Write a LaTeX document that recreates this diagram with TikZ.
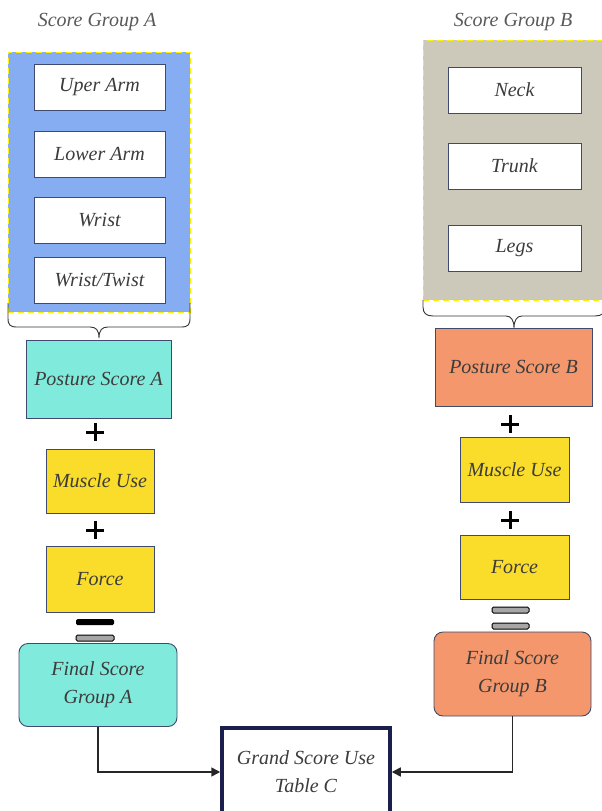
\documentclass[tikz,border=0pt]{standalone}
\usepackage{fontspec}
\setmainfont{Liberation Serif}
\usetikzlibrary{arrows.meta}
\definecolor{edgec}{HTML}{3F4A6E}
\definecolor{txt}{HTML}{3C3C3C}
\definecolor{blueg}{HTML}{86ADF2}
\definecolor{grayg}{HTML}{CDC9BA}
\definecolor{turq}{HTML}{80EBDC}
\definecolor{salmon}{HTML}{F4976C}
\definecolor{yel}{HTML}{FADC2A}
\definecolor{navy}{HTML}{1A1F4E}
\begin{document}
\begin{tikzpicture}[x=1pt,y=-1pt,
  lbl/.style={font=\fontsize{20}{28}\selectfont\itshape, text=txt, align=center},
  inbox/.style={lbl, draw=edgec, line width=0.9pt, fill=white, minimum width=131pt, minimum height=46pt, inner sep=0pt},
  grp/.style={draw=yellow, dashed, dash pattern=on 6pt off 4pt, line width=0.8pt, inner sep=0pt},
  sbox/.style={lbl, draw=edgec, line width=0.9pt, inner sep=0pt},
  ttl/.style={font=\fontsize{20}{24}\selectfont\itshape, text=txt!85},
  brc/.style={draw=black!80, line width=0.9pt},
  conn/.style={draw=black!85, line width=1.6pt, -{Triangle[length=9pt,width=9pt]}},
  plusl/.style={line width=3pt, black},
  ]
\useasboundingbox (0,0) rectangle (602,811);
\clip (0,0) rectangle (602,811);
% titles
\node[ttl] (ta) at (97,22) {Score Group A};
\node[ttl] (tb) at (513,22) {Score Group B};
% group backgrounds
\node[grp, fill=blueg, minimum width=182pt, minimum height=260pt] (ga) at (99,182) {};
\node[grp, fill=grayg, minimum width=190pt, minimum height=260pt] (gb) at (518,170) {};
% inner boxes A
\node[inbox] (ua) at (99.5,87) {Uper Arm};
\node[inbox] (la) at (99.5,154) {Lower Arm};
\node[inbox] (wr) at (99.5,220) {Wrist};
\node[inbox] (wt) at (99.5,280) {Wrist/Twist};
% inner boxes B
\node[inbox, minimum width=133pt] (ne) at (514.5,90) {Neck};
\node[inbox, minimum width=133pt] (tr) at (514.5,166) {Trunk};
\node[inbox, minimum width=133pt] (lg) at (514.5,248) {Legs};
% braces
\draw[brc] (8,303) -- (8,318) .. controls (8,325) and (10,327) .. (17,327) -- (90,327) .. controls (96,327) and (99,330) .. (99,338) .. controls (99,330) and (102,327) .. (108,327) -- (181,327) .. controls (188,327) and (190,325) .. (190,318) -- (190,303);
\draw[brc] (423,300) -- (423,307) .. controls (423,313) and (426,316) .. (433,316) -- (506,316) .. controls (511,316) and (514,320) .. (514,328) .. controls (514,320) and (517,316) .. (522,316) -- (595,316) .. controls (602,316) and (605,313) .. (605,307) -- (605,300);
% column A
\node[sbox, fill=turq, minimum width=145pt, minimum height=78pt] (pa) at (98.5,379) {Posture Score A};
\node[sbox, fill=yel, minimum width=108pt, minimum height=64pt] (ma) at (100,481) {Muscle Use};
\node[sbox, fill=yel, minimum width=108pt, minimum height=66pt] (fa) at (100,579) {Force};
\node[sbox, fill=turq, rounded corners=9pt, minimum width=158pt, minimum height=83pt] (fna) at (98,685) {Final Score\\Group A};
% column B
\node[sbox, fill=salmon, minimum width=157pt, minimum height=78pt] (pb) at (513.5,367) {Posture Score B};
\node[sbox, fill=yel, minimum width=109pt, minimum height=65pt] (mb) at (514.5,469.5) {Muscle Use};
\node[sbox, fill=yel, minimum width=109pt, minimum height=64pt] (fb) at (514.5,567) {Force};
\node[sbox, fill=salmon, rounded corners=9pt, minimum width=157pt, minimum height=84pt] (fnb) at (512.5,674) {Final Score\\Group B};
% grand
\node[lbl, draw=navy, line width=3.5pt, fill=white, minimum width=168pt, minimum height=88pt, inner sep=0pt] (gs) at (306,772) {Grand Score Use\\Table C};
% plus signs
\draw[plusl] (86,432) -- (104,432); \draw[plusl] (95,423) -- (95,441);
\draw[plusl] (86,530) -- (104,530); \draw[plusl] (95,521) -- (95,539);
\draw[plusl] (501,424) -- (519,424); \draw[plusl] (510,415) -- (510,433);
\draw[plusl] (501,520) -- (519,520); \draw[plusl] (510,511) -- (510,529);
% equal signs
\fill[black, rounded corners=1.5pt] (76,619) rectangle (114,625);
\draw[black, fill=gray!70, line width=1pt, rounded corners=1.5pt] (76,635) rectangle (114,641);
\draw[black, fill=gray!70, line width=1pt, rounded corners=1.5pt] (492,607) rectangle (529,613);
\draw[black, fill=gray!70, line width=1pt, rounded corners=1.5pt] (492,623) rectangle (529,629);
% connectors
\draw[conn] (fna.south) |- (gs.west);
\draw[conn] (fnb.south) |- (gs.east);
\end{tikzpicture}
\end{document}
